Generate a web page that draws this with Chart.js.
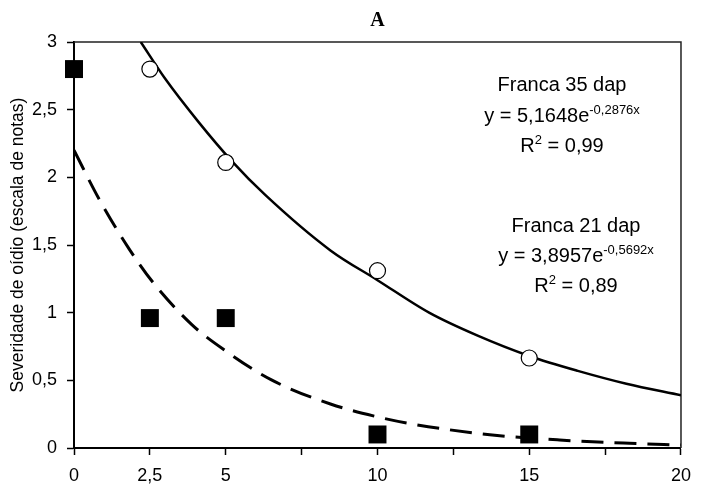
<!DOCTYPE html>
<html>
<head>
<meta charset="utf-8">
<script src="https://cdn.jsdelivr.net/npm/chart.js@4.4.1/dist/chart.umd.min.js"></script>
<style>
  html, body { margin: 0; padding: 0; background: #fff; }
</style>
</head>
<body>
<canvas id="chart" width="701" height="488"></canvas>
<script>
const chartTitle = "A";
const yTitle = "Severidade de oídio (escala de notas)";
const xTicks = [0, 2.5, 5, 7.5, 10, 12.5, 15, 17.5, 20];
const xTickLabels = ["0", "2,5", "5", "", "10", "", "15", "", "20"];
const yTicks = [0, 0.5, 1, 1.5, 2, 2.5, 3];
const yTickLabels = ["0", "0,5", "1", "1,5", "2", "2,5", "3"];

// Franca 35 dap (open circles)
const x35 = [2.5, 5, 10, 15];
const y35 = [2.8, 2.11, 1.31, 0.665];

// Franca 21 dap (filled squares)
const x21 = [0, 2.5, 5, 10, 15];
const y21 = [2.8, 0.96, 0.96, 0.10, 0.10];

// trend curves
const fitX35 = [2.2, 3.0, 4.1, 5.2, 6.3, 8.45, 10, 11.7, 13.3, 15, 16.6, 18.2, 20];
const fitY35 = [3.0, 2.73, 2.41, 2.12, 1.87, 1.46, 1.24, 1.0, 0.83, 0.68, 0.57, 0.475, 0.39];
const fitX21 = [0, 0.85, 1.82, 2.58, 3.89, 4.98, 6.49, 8.45, 10, 11.2, 13.7, 16.0, 18.3, 20];
const fitY21 = [2.2, 1.83, 1.47, 1.23, 0.91, 0.72, 0.505, 0.325, 0.23, 0.175, 0.098, 0.059, 0.035, 0.022];

// equation labels: each line is a list of [text, superscript?]
const notes35 = [
  [["Franca 35 dap", false]],
  [["y = 5,1648e", false], ["-0,2876x", true]],
  [["R", false], ["2", true], [" = 0,99", false]]
];
const notes21 = [
  [["Franca 21 dap", false]],
  [["y = 3,8957e", false], ["-0,5692x", true]],
  [["R", false], ["2", true], [" = 0,89", false]]
];

const sans = "'Liberation Sans', Arial, sans-serif";
const serif = "'Liberation Serif', 'Times New Roman', serif";

function pts(xs, ys) {
  return xs.map((x, i) => ({ x: x, y: ys[i] }));
}

function drawNote(ctx, lines, cx, y0, step) {
  const big = "20px " + sans;
  const small = "13px " + sans;
  ctx.fillStyle = "#000";
  ctx.textBaseline = "alphabetic";
  ctx.textAlign = "left";
  lines.forEach((line, li) => {
    let w = 0;
    line.forEach(seg => {
      ctx.font = seg[1] ? small : big;
      w += ctx.measureText(seg[0]).width;
    });
    let x = cx - w / 2;
    const y = y0 + li * step;
    line.forEach(seg => {
      ctx.font = seg[1] ? small : big;
      ctx.fillText(seg[0], x, seg[1] ? y - 8 : y);
      x += ctx.measureText(seg[0]).width;
    });
  });
}

const decor = {
  id: "decor",
  beforeDatasetsDraw(chart) {
    const a = chart.chartArea;
    const ctx = chart.ctx;
    ctx.save();
    ctx.strokeStyle = "#222";
    ctx.lineWidth = 1.5;
    ctx.beginPath();
    ctx.moveTo(a.left, a.top);
    ctx.lineTo(a.right, a.top);
    ctx.lineTo(a.right, a.bottom);
    ctx.stroke();
    ctx.restore();
  },
  afterDraw(chart) {
    const a = chart.chartArea;
    const ctx = chart.ctx;
    ctx.save();
    ctx.fillStyle = "#000";
    ctx.font = "bold 20px " + serif;
    ctx.textAlign = "center";
    ctx.textBaseline = "alphabetic";
    ctx.fillText(chartTitle, (a.left + a.right) / 2, 26);
    drawNote(ctx, notes35, 562, 91, 30.5);
    drawNote(ctx, notes21, 576, 232, 30);
    ctx.restore();
  }
};

new Chart(document.getElementById("chart"), {
  type: "scatter",
  data: {
    datasets: [
      {
        label: "Franca 35 dap",
        data: pts(x35, y35),
        showLine: false,
        clip: false,
        pointStyle: "circle",
        pointRadius: 8,
        pointBackgroundColor: "#fff",
        pointBorderColor: "#000",
        pointBorderWidth: 1.2,
        order: 0
      },
      {
        label: "Franca 21 dap",
        data: pts(x21, y21),
        showLine: false,
        clip: false,
        pointStyle: "rect",
        pointRadius: 12.7,
        pointBackgroundColor: "#000",
        pointBorderColor: "#000",
        pointBorderWidth: 0,
        order: 0
      },
      {
        label: "ajuste 35 dap",
        data: pts(fitX35, fitY35),
        showLine: true,
        pointRadius: 0,
        borderColor: "#000",
        borderWidth: 2.5,
        cubicInterpolationMode: "monotone",
        order: 2
      },
      {
        label: "ajuste 21 dap",
        data: pts(fitX21, fitY21),
        showLine: true,
        pointRadius: 0,
        borderColor: "#000",
        borderWidth: 3,
        borderDash: [22, 11],
        cubicInterpolationMode: "monotone",
        order: 2
      }
    ]
  },
  options: {
    responsive: false,
    devicePixelRatio: 1,
    animation: false,
    layout: { padding: { top: 42, right: 13, left: 0, bottom: 0 } },
    plugins: {
      legend: { display: false },
      tooltip: { enabled: false }
    },
    scales: {
      x: {
        type: "linear",
        min: 0,
        max: 20,
        afterBuildTicks: s => { s.ticks = xTicks.map(v => ({ value: v })); },
        afterFit: s => { s.height = 40; },
        ticks: {
          autoSkip: false,
          maxRotation: 0,
          padding: 10,
          color: "#000",
          font: { size: 18, family: sans },
          callback: (v, i) => xTickLabels[i]
        },
        grid: { drawOnChartArea: false, drawTicks: true, tickLength: 7, tickColor: "#000", tickWidth: 1.5 },
        border: { display: true, color: "#000", width: 2 }
      },
      y: {
        min: 0,
        max: 3,
        afterBuildTicks: s => { s.ticks = yTicks.map(v => ({ value: v })); },
        afterFit: s => { s.width = 74; },
        ticks: {
          padding: 10,
          color: "#000",
          font: { size: 18, family: sans },
          callback: (v, i) => yTickLabels[i]
        },
        title: {
          display: true,
          text: yTitle,
          color: "#000",
          font: { size: 17.5, family: sans },
          padding: { top: 8, bottom: 0 }
        },
        grid: { drawOnChartArea: false, drawTicks: true, tickLength: 7, tickColor: "#000", tickWidth: 1.5 },
        border: { display: true, color: "#000", width: 2 }
      }
    }
  },
  plugins: [decor]
});
</script>
</body>
</html>
